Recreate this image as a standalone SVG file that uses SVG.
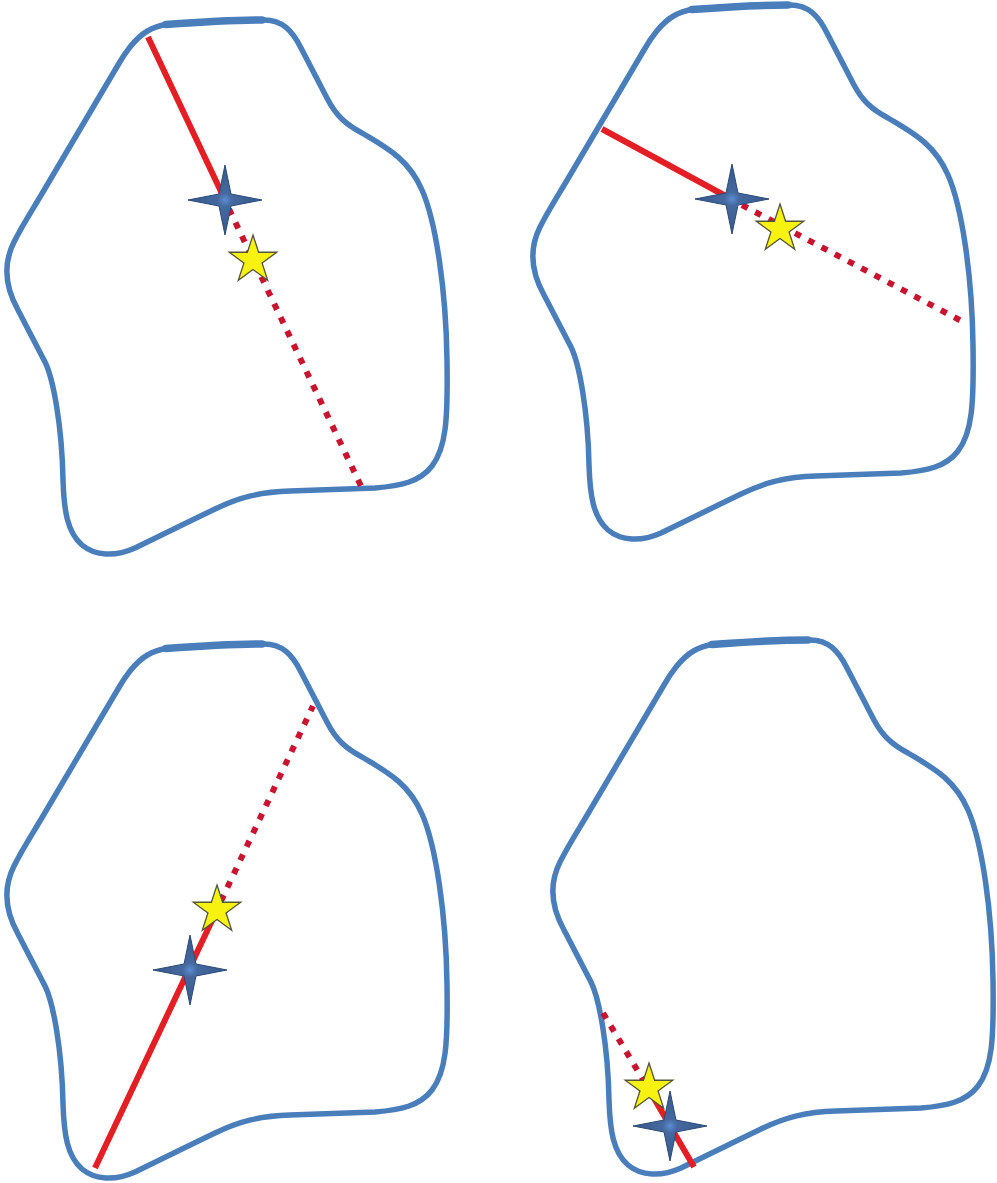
<svg xmlns="http://www.w3.org/2000/svg" xmlns:xlink="http://www.w3.org/1999/xlink" width="997" height="1183" viewBox="0 0 997 1183">
  <style>
    .outline { fill: none; stroke: #4A7EBB; stroke-width: 5.5; stroke-linejoin: round; }
    .outline-heavy { fill: none; stroke: #4A7EBB; stroke-width: 7.5; stroke-linecap: round; }
    .solid { stroke: #E31E24; stroke-width: 6; stroke-linecap: butt; fill: none; }
    .dotted { stroke: #C8142E; stroke-width: 6; stroke-dasharray: 6.5 8.5; stroke-linecap: butt; fill: none; }
    .compass { fill: url(#compassFill); stroke: #2C4A76; stroke-width: 1; stroke-linejoin: miter; }
    .star5 { fill: #F7F20F; stroke: #55543A; stroke-width: 1.3; stroke-linejoin: miter; }
  </style>
  <defs>
    <radialGradient id="compassFill" cx="0.5" cy="0.5" r="0.5">
      <stop offset="0" stop-color="#5B8DD3"/>
      <stop offset="0.2" stop-color="#45699F"/>
      <stop offset="1" stop-color="#36598A"/>
    </radialGradient>
    <!-- closed freeform region, drawn once and placed four times -->
    <g id="blob">
      <path class="outline" d="M130,47 C142,32 152,27 168,24 C200,22 235,20 262,20 C283,19 293,32 301,48 L328,100 C336,115 345,124 362,133 C385,147 408,158 422,190 C436,222 446,290 447,360 C448,420 446,448 432,466 C420,482 400,486 375,488 L290,491 C260,492 240,497 215,509 C188,522 160,536 135,548 C115,557 95,556 82,545 C67,532 64,510 63,480 C62,425 53,378 45,362 L18,310 C4,285 4,262 14,242 C22,226 31,212 40,197 L118,65 C122,58 126,52 130,47 Z"/>
      <path class="outline-heavy" d="M166,24.5 C200,22 235,20 262,20"/>
    </g>
    <!-- four-point compass star, centred on the origin -->
    <path id="compass" class="compass" d="M-37,0 L-6,-6 L0,-35 L6,-6 L37,0 L6,6 L0,35 L-6,6 Z"/>
    <!-- five-point star, centred on the origin -->
    <path id="star" class="star5" d="M0,-25 L5.61,-7.73 L23.78,-7.73 L9.08,2.95 L14.69,20.23 L0,9.55 L-14.69,20.23 L-9.08,2.95 L-23.78,-7.73 L-5.61,-7.73 Z"/>
  </defs>

  <!-- region outlines -->
  <g id="region-1"><use xlink:href="#blob" href="#blob"/></g>
  <g id="region-2"><use xlink:href="#blob" href="#blob" transform="translate(526,-15)"/></g>
  <g id="region-3"><use xlink:href="#blob" href="#blob" transform="translate(0,624)"/></g>
  <g id="region-4"><use xlink:href="#blob" href="#blob" transform="translate(546,620)"/></g>

  <!-- chords through each region -->
  <g id="connectors">
    <line class="solid" x1="148" y1="37" x2="225" y2="200"/>
    <line class="dotted" x1="229" y1="209" x2="361" y2="486"/>

    <line class="solid" x1="602" y1="129" x2="733" y2="200"/>
    <line class="dotted" x1="742" y1="205" x2="967" y2="324"/>

    <line class="solid" x1="95" y1="1168" x2="217" y2="910"/>
    <line class="dotted" x1="221" y1="901" x2="313" y2="706"/>

    <line class="dotted" x1="603" y1="1013" x2="648" y2="1088"/>
    <line class="solid" x1="648" y1="1088" x2="694" y2="1167"/>
  </g>

  <!-- point markers -->
  <g id="star-1"><use xlink:href="#star" href="#star" transform="translate(253,260)"/></g>
  <g id="compass-1"><use xlink:href="#compass" href="#compass" transform="translate(225,200)"/></g>

  <g id="star-2"><use xlink:href="#star" href="#star" transform="translate(780,229)"/></g>
  <g id="compass-2"><use xlink:href="#compass" href="#compass" transform="translate(732,199)"/></g>

  <g id="star-3"><use xlink:href="#star" href="#star" transform="translate(217,910)"/></g>
  <g id="compass-3"><use xlink:href="#compass" href="#compass" transform="translate(190,970)"/></g>

  <g id="star-4"><use xlink:href="#star" href="#star" transform="translate(649,1088)"/></g>
  <g id="compass-4"><use xlink:href="#compass" href="#compass" transform="translate(670,1126)"/></g>
</svg>
